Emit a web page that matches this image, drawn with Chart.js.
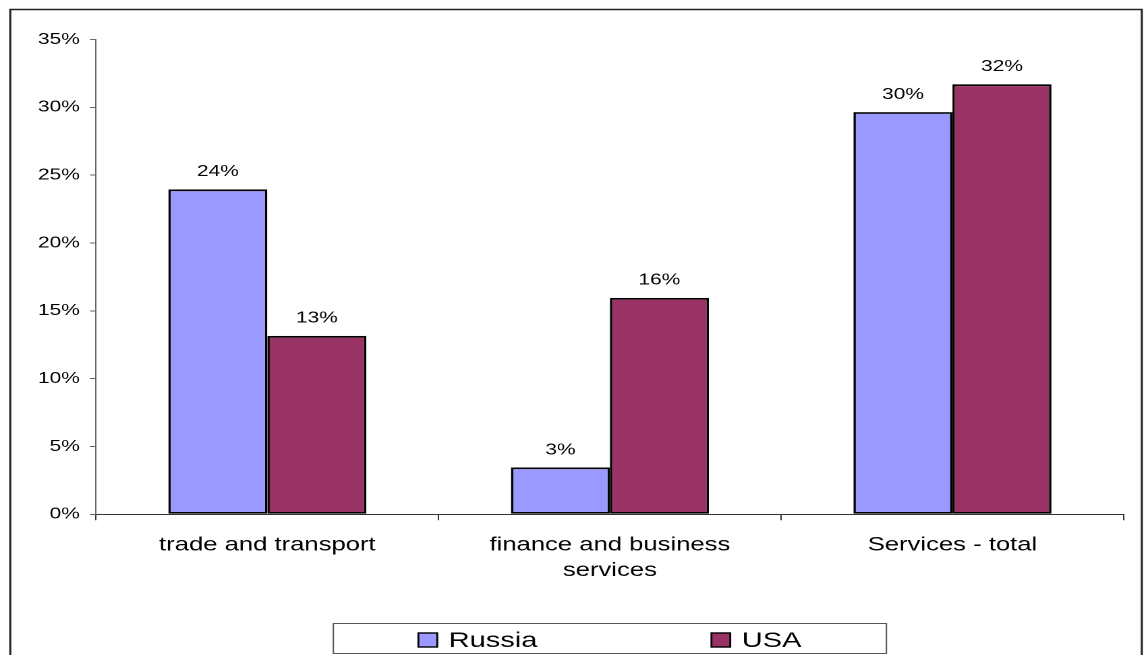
<!DOCTYPE html>
<html>
<head>
<meta charset="utf-8">
<title>Services share: Russia vs USA</title>
<script src="https://cdn.jsdelivr.net/npm/chart.js@4.4.0/dist/chart.umd.min.js"></script>
<style>
  html, body { margin: 0; padding: 0; background: #fff; overflow: hidden; }
  /* the sheet is drawn narrow and widened, like the old stretched Excel export */
  #wrap {
    position: absolute; left: 0; top: 0;
    width: 848px; height: 655px;
    transform: scaleX(1.349); transform-origin: 0 0;
  }
</style>
</head>
<body>
<div id="wrap"><canvas id="chartServices"></canvas></div>
<script>
  // ---- data ----
  const categories = ["trade and transport", ["finance and business", "services"], "Services - total"];
  const seriesNames = ["Russia", "USA"];
  const russiaShare = [23.95, 3.45, 29.65];
  const usaShare = [13.15, 15.95, 31.7];
  const yMax = 35;
  const yStep = 5;

  const FONT = "'Liberation Sans', Arial, sans-serif";
  const colors = ["#9999FF", "#993366"];

  // outer frame of the sheet
  const framePlugin = {
    id: "frame",
    afterDraw(chart) {
      const ctx = chart.ctx;
      ctx.save();
      ctx.strokeStyle = "#222";
      ctx.lineWidth = 1.5;
      ctx.strokeRect(7.6, 9.5, chart.width - 9.2, chart.height + 40);
      ctx.restore();
    }
  };

  // percentage labels above every bar
  const valueLabels = {
    id: "valueLabels",
    afterDatasetsDraw(chart) {
      const ctx = chart.ctx;
      ctx.save();
      ctx.font = `15.5px ${FONT}`;
      ctx.fillStyle = "#000";
      ctx.textAlign = "center";
      ctx.textBaseline = "middle";
      chart.data.datasets.forEach((ds, di) => {
        chart.getDatasetMeta(di).data.forEach((bar, i) => {
          ctx.fillText(Math.round(ds.data[i]) + "%", bar.x, bar.y - 17.5);
        });
      });
      ctx.restore();
    }
  };

  // boxed legend under the plot
  const boxLegend = {
    id: "boxLegend",
    afterDraw(chart) {
      const ctx = chart.ctx;
      const area = chart.chartArea;
      const cx = (area.left + area.right) / 2;
      const sq = 14, gapText = 8.5, gapItem = 129;
      ctx.save();
      ctx.font = `21.5px ${FONT}`;
      const items = chart.data.datasets.map((ds) => ({
        text: ds.label,
        color: ds.backgroundColor,
        w: sq + gapText + ctx.measureText(ds.label).width
      }));
      const total = items.reduce((s, it) => s + it.w, 0) + gapItem * (items.length - 1);

      ctx.strokeStyle = "#555";
      ctx.lineWidth = 1;
      ctx.strokeRect(cx - 205, 623.5, 410, 30);

      let x = cx - total / 2;
      const midY = 640;
      items.forEach((it) => {
        ctx.fillStyle = it.color;
        ctx.fillRect(x, midY - sq / 2, sq, sq);
        ctx.strokeStyle = "#000";
        ctx.lineWidth = 1.4;
        ctx.strokeRect(x, midY - sq / 2, sq, sq);
        ctx.fillStyle = "#000";
        ctx.textBaseline = "middle";
        ctx.fillText(it.text, x + sq + gapText, midY + 1);
        x += it.w + gapItem;
      });
      ctx.restore();
    }
  };

  const ctx = document.getElementById("chartServices");

  new Chart(ctx, {
    type: "bar",
    data: {
      labels: categories,
      datasets: [
        {
          label: seriesNames[0],
          data: russiaShare,
          backgroundColor: colors[0],
          borderColor: "#000",
          borderWidth: 1.8,
          borderSkipped: false
        },
        {
          label: seriesNames[1],
          data: usaShare,
          backgroundColor: colors[1],
          borderColor: "#000",
          borderWidth: 1.8,
          borderSkipped: false
        }
      ]
    },
    options: {
      responsive: true,
      maintainAspectRatio: false,
      animation: false,
      devicePixelRatio: 2,
      layout: { padding: { top: 39.5, right: 15, left: 0, bottom: 0 } },
      datasets: {
        bar: { categoryPercentage: 0.578, barPercentage: 1 }
      },
      plugins: {
        legend: { display: false },
        tooltip: { enabled: false }
      },
      scales: {
        x: {
          grid: {
            offset: true,
            drawOnChartArea: false,
            drawTicks: true,
            tickLength: 6,
            color: "#333"
          },
          border: { color: "#333", width: 1 },
          ticks: {
            color: "#000",
            font: { family: FONT, size: 19, lineHeight: 1.35 },
            padding: 12,
            maxRotation: 0,
            autoSkip: false
          },
          afterFit: (s) => { s.height = 655 - 514.3; }
        },
        y: {
          min: 0,
          max: yMax,
          grid: {
            drawOnChartArea: false,
            drawTicks: true,
            tickLength: 4.5,
            color: "#666"
          },
          border: { color: "#666", width: 1 },
          ticks: {
            stepSize: yStep,
            color: "#000",
            font: { family: FONT, size: 15.5 },
            padding: 7.5,
            callback: (v) => v + "%"
          },
          afterFit: (s) => { s.width = 71.2; }
        }
      }
    },
    plugins: [framePlugin, valueLabels, boxLegend]
  });
</script>
</body>
</html>
